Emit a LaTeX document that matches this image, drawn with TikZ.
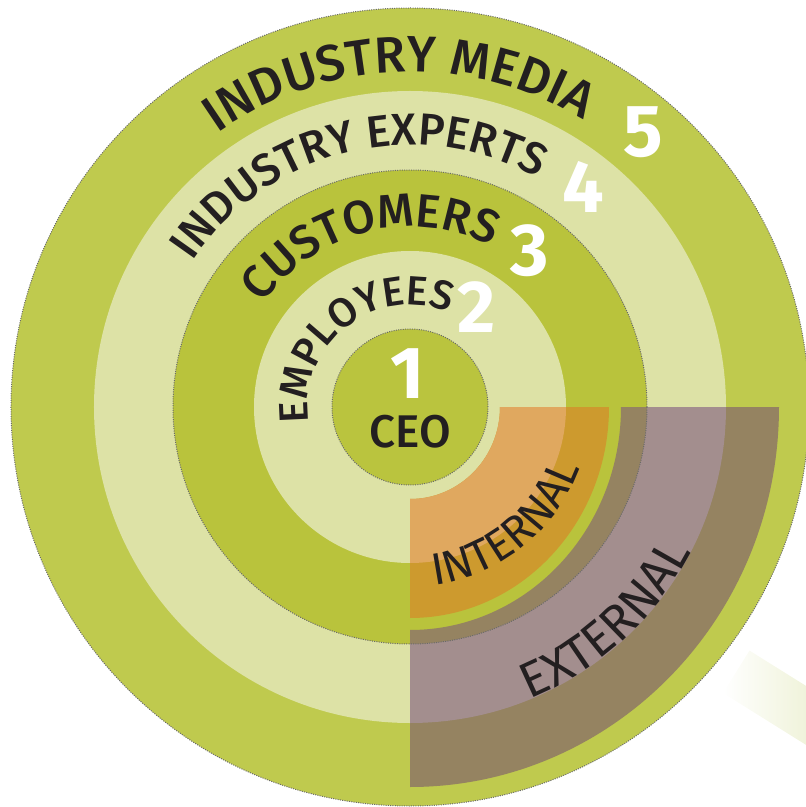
\documentclass[tikz,border=0pt]{standalone}
\usepackage{fontspec}
\setmainfont{Fira Sans}
\newfontfamily\medfont{Fira Sans Medium}
\newfontfamily\lightfont{Fira Sans Light}
\usetikzlibrary{decorations.text}
\definecolor{outergreen}{HTML}{BFCA4E}
\definecolor{palegreen}{HTML}{DDE2A6}
\definecolor{midgreen}{HTML}{B9C33C}
\definecolor{coregreen}{HTML}{BAC43E}
\definecolor{lightorange}{HTML}{E0A85F}
\definecolor{darkorange}{HTML}{CD9A2E}
\definecolor{extbrown}{HTML}{958361}
\definecolor{extmauve}{HTML}{A38E8E}
\definecolor{bandgreen}{HTML}{E3E9BC}
\definecolor{dotgrey}{HTML}{6A6A6A}
\definecolor{textblack}{HTML}{231F20}
\newcommand\mediafont{\medfont\fontsize{51}{51}\selectfont\color{textblack}}
\newcommand\expertfont{\medfont\fontsize{45}{45}\selectfont\color{textblack}}
\newcommand\custfont{\medfont\fontsize{47}{47}\selectfont\color{textblack}}
\newcommand\emplfont{\medfont\fontsize{41}{41}\selectfont\color{textblack}}
\newcommand\internfont{\normalfont\fontsize{45}{45}\selectfont\color{textblack}}
\newcommand\externfont{\normalfont\fontsize{50}{50}\selectfont\color{textblack}}
\tikzset{
  ringedge/.style={draw=dotgrey,line width=1bp,dash pattern=on 1bp off 1.3bp},
  ringlabel/.style={decorate,decoration={text along path,text align=center,text={#1}}},
  ringnum/.style={text=white,font=\bfseries\fontsize{74}{74}\selectfont,inner sep=0pt},
}
\begin{document}
\begin{tikzpicture}[line join=bevel,]
%%
\useasboundingbox (-410bp,-400bp) rectangle (396bp,407bp);
% rings
\fill[outergreen] (0bp,0bp) circle[radius=399bp];
\fill[palegreen] (0bp,0bp) circle[radius=316bp];
\fill[midgreen] (0bp,0bp) circle[radius=237bp];
\fill[palegreen] (0bp,0bp) circle[radius=156bp];
\fill[coregreen] (0bp,0bp) circle[radius=78bp];
% internal and external quarters
\fill[darkorange] (90bp,0bp) -- (199bp,0bp) arc[start angle=0,end angle=-90,x radius=199bp,y radius=211bp] -- (0bp,-92bp) arc[start angle=-90,end angle=0,x radius=90bp,y radius=92bp] -- cycle;
\fill[lightorange] (90bp,0bp) -- (156bp,0bp) arc[start angle=0,end angle=-90,radius=156bp] -- (0bp,-92bp) arc[start angle=-90,end angle=0,x radius=90bp,y radius=92bp] -- cycle;
\fill[extbrown] (211bp,0bp) -- (369bp,0bp) arc[start angle=0,end angle=-90,x radius=369bp,y radius=380bp] -- (0bp,-223bp) arc[start angle=-90,end angle=0,x radius=211bp,y radius=223bp] -- cycle;
\fill[extmauve] (237bp,0bp) -- (316bp,0bp) arc[start angle=0,end angle=-90,radius=316bp] -- (0bp,-237bp) arc[start angle=-90,end angle=0,radius=237bp] -- cycle;
% dotted edges
\path[ringedge] (0bp,0bp) circle[radius=399bp];
\path[ringedge] (0bp,0bp) circle[radius=237bp];
\path[ringedge] (0bp,0bp) circle[radius=78bp];
% faded band
\begin{scope}
\clip (-410bp,-400bp) rectangle (396bp,407bp);
\shade[left color=white,right color=bandgreen,shift={(313bp,-286bp)},rotate=-32] (0bp,0bp) rectangle (150bp,50bp);
\end{scope}
% ring texts
\path[ringlabel={|\mediafont|INDUSTRY MEDIA}] (182:335bp) arc[start angle=182,end angle=2,radius=335bp];
\path[ringlabel={|\expertfont|INDUSTRY EXPERTS}] (193.5:262bp) arc[start angle=193.5,end angle=13.5,radius=262bp];
\path[ringlabel={|\custfont|CUSTOMERS}] (194:180bp) arc[start angle=194,end angle=14,radius=180bp];
\path[ringlabel={|\emplfont|EMPLOYEES}] (248:102bp) arc[start angle=248,end angle=8,radius=102bp];
\path[ringlabel={|\internfont|INTERNAL}] (-141:180bp) arc[start angle=-141,end angle=39,radius=180bp];
\path[ringlabel={|\externfont|EXTERNAL}] (-137.5:316bp) arc[start angle=-137.5,end angle=42.5,radius=316bp];
% numbers
\node (node_5) at (233bp,275bp) [ringnum] {5};
\node (node_4) at (173bp,220bp) [ringnum] {4};
\node (node_3) at (120bp,156bp) [ringnum] {3};
\node (node_2) at (67bp,100bp) [ringnum] {2};
\node (node_1) at (-2bp,33bp) [ringnum] {1};
\node (node_ceo) at (0bp,-25bp) [inner sep=0pt,text=textblack,font=\medfont\fontsize{46}{46}\selectfont] {CEO};
%
\end{tikzpicture}
\end{document}
